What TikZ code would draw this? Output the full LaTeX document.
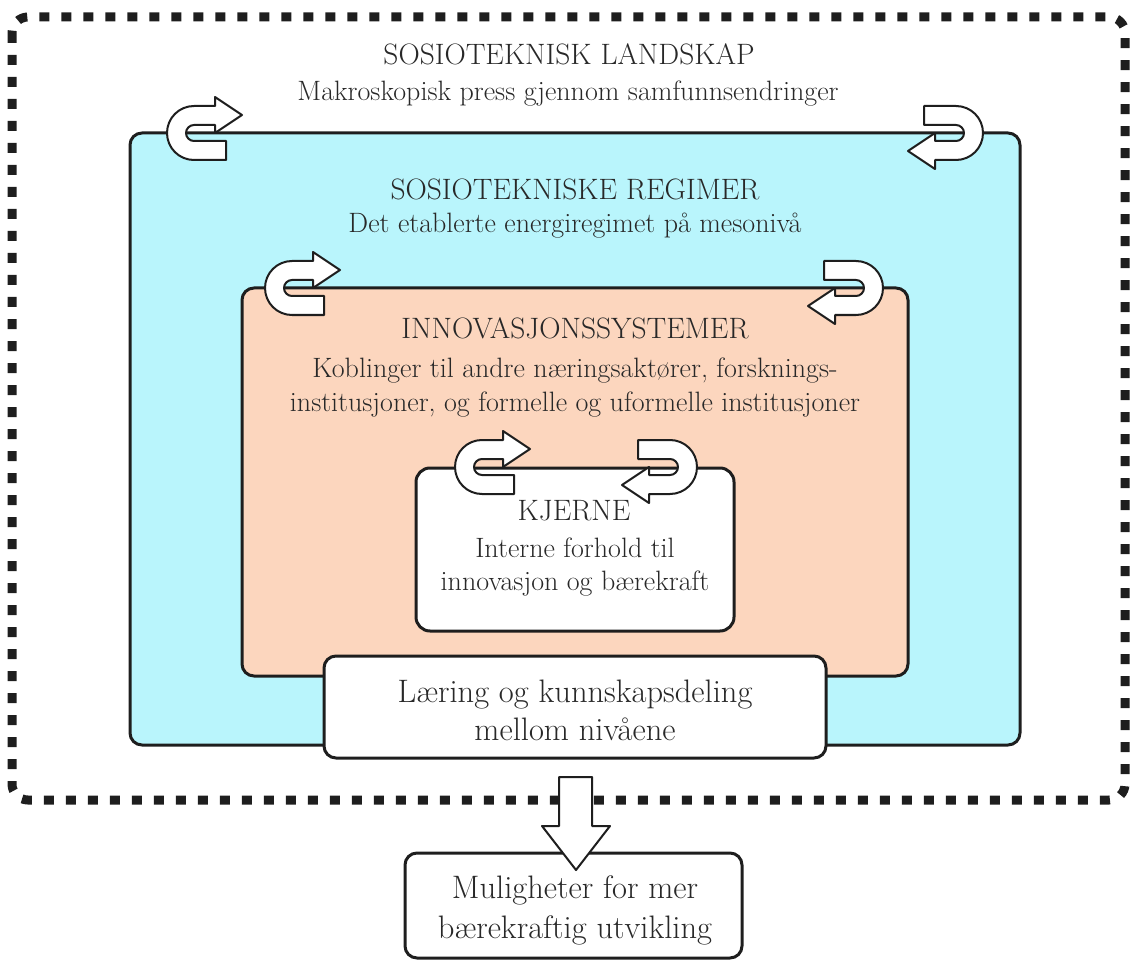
\documentclass[tikz,border=0pt]{standalone}
\usepackage{fontspec}
\definecolor{cyanbox}{RGB}{185,245,252}
\definecolor{peachbox}{RGB}{252,214,190}
\definecolor{edge}{RGB}{30,30,30}
\definecolor{txt}{RGB}{40,40,40}
\tikzset{
  boxstyle/.style={draw=edge, line width=3pt, rounded corners=12pt},
  arrowshape/.style={draw=edge, fill=white, line width=2pt, line join=round},
  lbl/.style={text=txt, font=\fontsize{28}{32}\selectfont, anchor=base, inner sep=0pt},
  caplbl/.style={text=txt, font=\fontsize{29.5}{32}\selectfont, anchor=base, inner sep=0pt},
  biglbl/.style={text=txt, font=\fontsize{32.5}{36}\selectfont, anchor=base, inner sep=0pt},
}
\newcommand\myuturn[3]{%
  \begin{scope}[shift={(#1,#2)},rotate=#3]
    \filldraw[arrowshape] (32,27) -- (0,27) arc[start angle=90,end angle=270,radius=27]
      -- (21,-27) -- (21,-36) -- (48,-18) -- (21,0) -- (21,-8) -- (0,-8)
      arc[start angle=270,end angle=90,radius=8] -- (32,8) -- cycle;
  \end{scope}}
\begin{document}
\begin{tikzpicture}[x=1pt,y=-1pt]
\useasboundingbox (0,0) rectangle (1134,965);
% outer dashed border
\draw[edge, line width=9pt, dash pattern=on 10pt off 12pt, rounded corners=16pt] (12,17) rectangle (1125,800);
% landscape level
\node[boxstyle, fill=cyanbox, minimum width=890pt, minimum height=612pt, inner sep=0pt] (regime) at (575,439) {};
\myuturn{194}{133}{0}
\myuturn{956}{133}{180}
\node[boxstyle, fill=peachbox, minimum width=666pt, minimum height=388pt, inner sep=0pt] (innov) at (575,482) {};
\myuturn{292}{288}{0}
\myuturn{856}{288}{180}
\node[boxstyle, fill=white, rounded corners=14pt, minimum width=318pt, minimum height=163pt, inner sep=0pt] (kjerne) at (575,549.5) {};
\myuturn{482}{467}{0}
\myuturn{670}{467}{180}
\node[boxstyle, fill=white, minimum width=502pt, minimum height=102pt, inner sep=0pt] (laering) at (575,707) {};
\node[boxstyle, fill=white, minimum width=337pt, minimum height=105pt, inner sep=0pt] (mulig) at (573.5,905.5) {};
% down arrow
\filldraw[arrowshape] (559,777) -- (592,777) -- (592,826) -- (610,826) -- (576,870) -- (542,826) -- (559,826) -- cycle;
% texts
\node[caplbl] (t1) at (569,65) {SOSIOTEKNISK LANDSKAP};
\node[lbl] (t2) at (568,101) {Makroskopisk press gjennom samfunnsendringer};
\node[caplbl] (t3) at (575,200) {SOSIOTEKNISKE REGIMER};
\node[lbl] (t4) at (575,233) {Det etablerte energiregimet på mesonivå};
\node[caplbl] (t5) at (575,338) {INNOVASJONSSYSTEMER};
\node[lbl] (t6) at (575,377) {Koblinger til andre næringsaktører, forsknings-};
\node[lbl] (t7) at (575,411) {institusjoner, og formelle og uformelle institusjoner};
\node[caplbl] (t8) at (574,520) {KJERNE};
\node[lbl] (t9) at (575,557) {Interne forhold til};
\node[lbl] (t10) at (575,590) {innovasjon og bærekraft};
\node[biglbl] (t11) at (575,702) {Læring og kunnskapsdeling};
\node[biglbl] (t12) at (575,740) {mellom nivåene};
\node[biglbl] (t13) at (575,898) {Muligheter for mer};
\node[biglbl] (t14) at (575,938) {bærekraftig utvikling};
\end{tikzpicture}
\end{document}
